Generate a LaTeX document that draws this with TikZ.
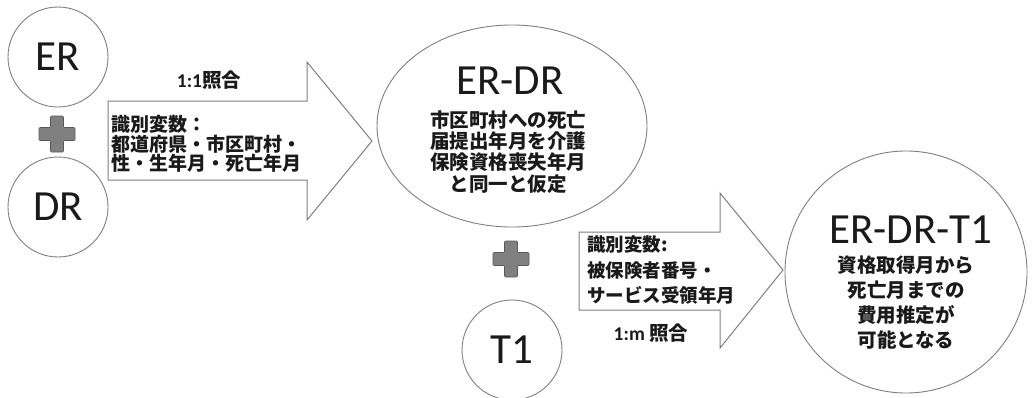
\documentclass[tikz,border=0pt]{standalone}
\usepackage{fontspec}
\setmainfont{Carlito}
\newfontfamily\jp{Noto Sans CJK JP}
\usetikzlibrary{shapes.geometric}
\definecolor{edgegray}{HTML}{7F7F7F}
\definecolor{plusfill}{HTML}{808080}
\definecolor{plusedge}{HTML}{595959}
\definecolor{ink}{HTML}{1A1A1A}
\begin{document}
\begin{tikzpicture}[x=1pt,y=-1pt,
  roundnode/.style={circle, draw=edgegray, line width=0.9pt, fill=white, minimum size=#1, inner sep=0pt},
  ovalnode/.style={ellipse, draw=edgegray, line width=0.9pt, fill=white, minimum width=270pt, minimum height=202pt, inner sep=0pt},
  bigname/.style={font=\fontsize{43}{43}\selectfont, text=ink, inner sep=0pt},
  jpbody/.style={font=\jp\bfseries\fontsize{19.5}{#1}\selectfont, text=ink, align=center, inner sep=0pt},
  jplabel/.style 2 args={font=\jp\bfseries\fontsize{#1}{#2}\selectfont, text=ink, align=left, inner sep=0pt},
  matchlabel/.style={font=\fontsize{19.5}{19.5}\selectfont, text=ink, inner sep=0pt},
  blockarrow/.style={draw=edgegray, line width=1pt, fill=white, line join=miter},
  plusstyle/.style={fill=plusfill, draw=plusedge, line width=0.6pt, rounded corners=1pt},
  pics/plussign/.style={code={
    \path[plusstyle] (-6.5,-18) -- (6.5,-18) -- (6.5,-6.5) -- (18,-6.5) -- (18,6.5) -- (6.5,6.5)
      -- (6.5,18) -- (-6.5,18) -- (-6.5,6.5) -- (-18,6.5) -- (-18,-6.5) -- (-6.5,-6.5) -- cycle;}}]

\useasboundingbox (0,0) rectangle (1032,397);

% source circles
\node[roundnode=100pt] (er) at (58,57) {};
\node[bigname] (erlabel) at (er.center) {ER};
\pic (plusA) at (57,134) {plussign};
\node[roundnode=100pt] (dr) at (58,207) {};
\node[bigname] (drlabel) at (dr.center) {DR};

% first block arrow
\coordinate (a1sw) at (108,180);
\coordinate (a1nw) at (108,101);
\coordinate (a1tip) at (372,141);
\path[blockarrow] (a1nw) -- (307,101) -- (307,62) -- (a1tip) -- (307,220) -- (307,180) -- (a1sw) -- cycle;
\node[matchlabel] (match1) at (209,80) {\bfseries 1:1{\jp 照合}};
\node[jplabel={19}{19.5}, anchor=west] (keys1) at (111,144) {識別変数：\\都道府県・市区町村・\\性・生年月・死亡年月};

% ER-DR ellipse
\node[ovalnode] (erdr) at (512,126) {};
\node[bigname] (erdrtitle) at (510,81) {ER-DR};
\node[jpbody=21.2] (erdrbody) at (508,152) {市区町村への死亡\\届提出年月を介護\\保険資格喪失年月\\と同一と仮定};

% T1
\pic (plusB) at (511,259) {plussign};
\node[roundnode=100pt] (t1) at (512,350) {};
\node[bigname] (t1label) at (t1.center) {T1};

% second block arrow
\coordinate (a2sw) at (579,310);
\coordinate (a2nw) at (579,232);
\coordinate (a2tip) at (783,270);
\path[blockarrow] (a2nw) -- (720,232) -- (720,193) -- (a2tip) -- (720,348) -- (720,310) -- (a2sw) -- cycle;
\node[jplabel={18.5}{25.5}, anchor=west] (keys2) at (587,270) {識別変数:\\被保険者番号・\\サービス受領年月};
\node[matchlabel] (match2) at (651,333) {\bfseries 1:m {\jp 照合}};

% result circle
\node[roundnode=242pt] (result) at (906,272) {};
\node[bigname] (resulttitle) at (911,230) {ER-DR-T1};
\node[jpbody=25] (resultbody) at (906,303) {資格取得月から\\死亡月までの\\費用推定が\\可能となる};
\end{tikzpicture}
\end{document}
